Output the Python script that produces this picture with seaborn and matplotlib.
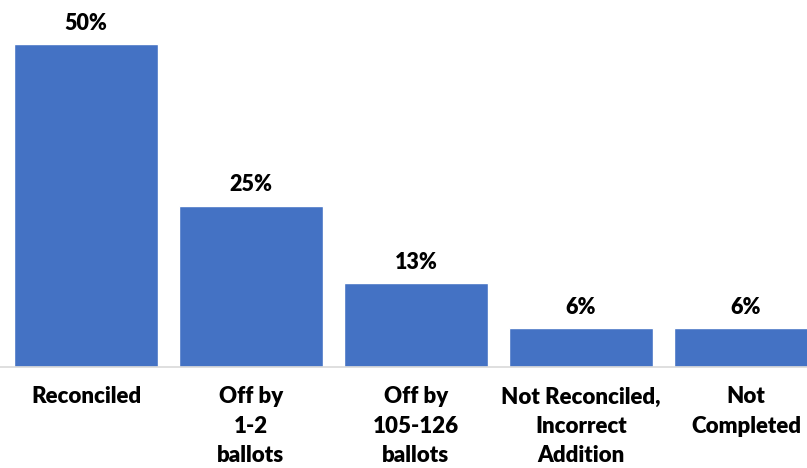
import matplotlib
matplotlib.use("Agg")
import matplotlib.pyplot as plt
import seaborn as sns
import pandas as pd

categories = ["Reconciled", "Off by\n1-2\nballots", "Off by\n105-126\nballots",
              "Not Reconciled,\nIncorrect\nAddition", "Not\nCompleted"]
values = [50, 25, 13, 6, 6]
value_labels = ["50%", "25%", "13%", "6%", "6%"]

sns.set_theme(style="white")
plt.rcParams['font.family'] = ['Lato', 'DejaVu Sans']

df = pd.DataFrame({"category": categories, "value": values})

fig = plt.figure(figsize=(8.07, 4.68), dpi=100)
ax = fig.add_axes([0, (468 - 367) / 468, 1, 367 / 468])
sns.barplot(data=df, x="category", y="value", color="#4472C4", saturation=1,
            width=0.873, ax=ax)
ax.set_xlim(-86 / 165, (807 - 86) / 165)
ax.set_ylim(0, 367 / 6.46)
for spine in ["top", "right", "left"]:
    ax.spines[spine].set_visible(False)
ax.spines["bottom"].set_color("#D9D9D9")
ax.spines["bottom"].set_linewidth(1.2)
ax.set_yticks([])
ax.set_xlabel("")
ax.set_ylabel("")
ax.tick_params(axis="x", length=0, pad=14)
for lbl in ax.get_xticklabels():
    lbl.set_fontweight("heavy")
    lbl.set_fontsize(16)
    lbl.set_linespacing(1.5)
    lbl.set_color("black")
ax.bar_label(ax.containers[0], labels=value_labels, padding=7.5,
             fontsize=15.5, fontweight="heavy", color="black")
fig.savefig("out.png", dpi=100)
